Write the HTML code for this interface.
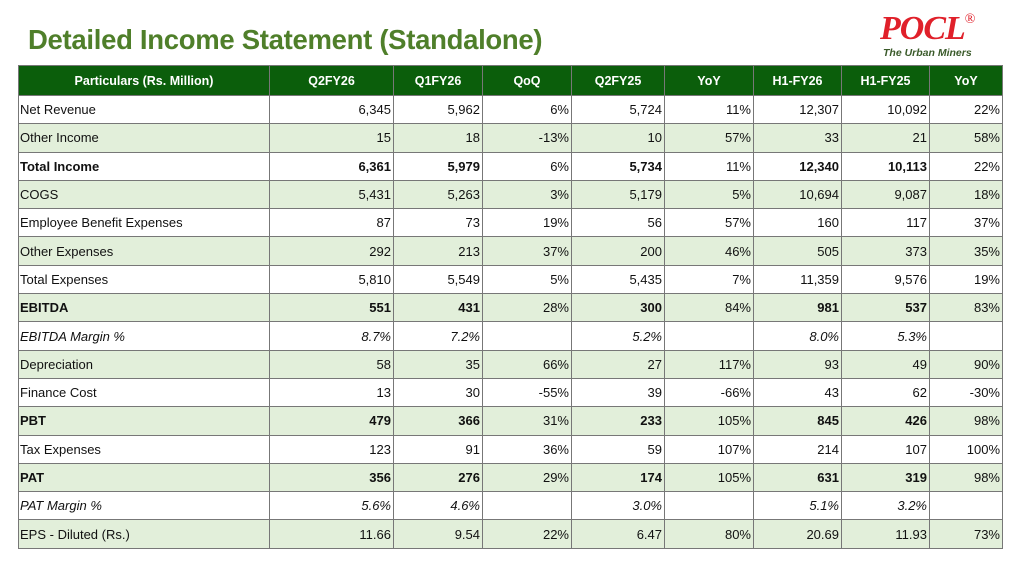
<!DOCTYPE html>
<html><head><meta charset="utf-8"><style>
body{margin:0;width:1024px;height:566px;background:#fff;font-family:"Liberation Sans",sans-serif;position:relative;overflow:hidden}
h1{position:absolute;left:28px;top:24px;margin:0;font-size:27.5px;font-weight:bold;color:#4f7f2a;letter-spacing:-0.3px}
.logo{position:absolute;left:880px;top:10px;font-family:"Liberation Serif",serif;font-style:italic;font-weight:bold;color:#e0202a;font-size:34px;letter-spacing:-1px}
.logo sup{font-size:14px;font-style:normal;font-weight:normal;position:relative;top:-4px}
.tag{position:absolute;left:883px;top:47px;font-size:10.5px;font-style:italic;font-weight:bold;color:#3a5a2a}
table{position:absolute;left:18px;top:65px;border-collapse:collapse;font-size:13px;color:#111}
td,th{border:1px solid #777;padding:0 2px;height:27.3px;text-align:right;white-space:nowrap}
th{background:#0b5e0b;color:#fff;text-align:center;height:29px;font-size:12.5px}
td:first-child{text-align:left;padding-left:1px}
tr:nth-child(odd) td{background:#e2efda}
.b td{font-weight:bold}.i td{font-style:italic}
</style></head><body>
<h1>Detailed Income Statement (Standalone)</h1>
<div class="logo">POCL<sup>®</sup></div>
<div class="tag">The Urban Miners</div>
<table>
<colgroup><col style="width:251px"><col style="width:124px"><col style="width:89px"><col style="width:89px"><col style="width:93px"><col style="width:89px"><col style="width:88px"><col style="width:88px"><col style="width:73px"></colgroup>
<tr><th>Particulars (Rs. Million)</th><th>Q2FY26</th><th>Q1FY26</th><th>QoQ</th><th>Q2FY25</th><th>YoY</th><th>H1-FY26</th><th>H1-FY25</th><th>YoY</th></tr>
<tr><td>Net Revenue</td><td>6,345</td><td>5,962</td><td>6%</td><td>5,724</td><td>11%</td><td>12,307</td><td>10,092</td><td>22%</td></tr>
<tr><td>Other Income</td><td>15</td><td>18</td><td>-13%</td><td>10</td><td>57%</td><td>33</td><td>21</td><td>58%</td></tr>
<tr class="b"><td>Total Income</td><td>6,361</td><td>5,979</td><td style="font-weight:normal">6%</td><td>5,734</td><td style="font-weight:normal">11%</td><td>12,340</td><td>10,113</td><td style="font-weight:normal">22%</td></tr>
<tr><td>COGS</td><td>5,431</td><td>5,263</td><td>3%</td><td>5,179</td><td>5%</td><td>10,694</td><td>9,087</td><td>18%</td></tr>
<tr><td>Employee Benefit Expenses</td><td>87</td><td>73</td><td>19%</td><td>56</td><td>57%</td><td>160</td><td>117</td><td>37%</td></tr>
<tr><td>Other Expenses</td><td>292</td><td>213</td><td>37%</td><td>200</td><td>46%</td><td>505</td><td>373</td><td>35%</td></tr>
<tr><td>Total Expenses</td><td>5,810</td><td>5,549</td><td>5%</td><td>5,435</td><td>7%</td><td>11,359</td><td>9,576</td><td>19%</td></tr>
<tr class="b"><td>EBITDA</td><td>551</td><td>431</td><td style="font-weight:normal">28%</td><td>300</td><td style="font-weight:normal">84%</td><td>981</td><td>537</td><td style="font-weight:normal">83%</td></tr>
<tr class="i"><td>EBITDA Margin %</td><td>8.7%</td><td>7.2%</td><td></td><td>5.2%</td><td></td><td>8.0%</td><td>5.3%</td><td></td></tr>
<tr><td>Depreciation</td><td>58</td><td>35</td><td>66%</td><td>27</td><td>117%</td><td>93</td><td>49</td><td>90%</td></tr>
<tr><td>Finance Cost</td><td>13</td><td>30</td><td>-55%</td><td>39</td><td>-66%</td><td>43</td><td>62</td><td>-30%</td></tr>
<tr class="b"><td>PBT</td><td>479</td><td>366</td><td style="font-weight:normal">31%</td><td>233</td><td style="font-weight:normal">105%</td><td>845</td><td>426</td><td style="font-weight:normal">98%</td></tr>
<tr><td>Tax Expenses</td><td>123</td><td>91</td><td>36%</td><td>59</td><td>107%</td><td>214</td><td>107</td><td>100%</td></tr>
<tr class="b"><td>PAT</td><td>356</td><td>276</td><td style="font-weight:normal">29%</td><td>174</td><td style="font-weight:normal">105%</td><td>631</td><td>319</td><td style="font-weight:normal">98%</td></tr>
<tr class="i"><td>PAT Margin %</td><td>5.6%</td><td>4.6%</td><td></td><td>3.0%</td><td></td><td>5.1%</td><td>3.2%</td><td></td></tr>
<tr><td>EPS - Diluted (Rs.)</td><td>11.66</td><td>9.54</td><td>22%</td><td>6.47</td><td>80%</td><td>20.69</td><td>11.93</td><td>73%</td></tr>
</table>
</body></html>
